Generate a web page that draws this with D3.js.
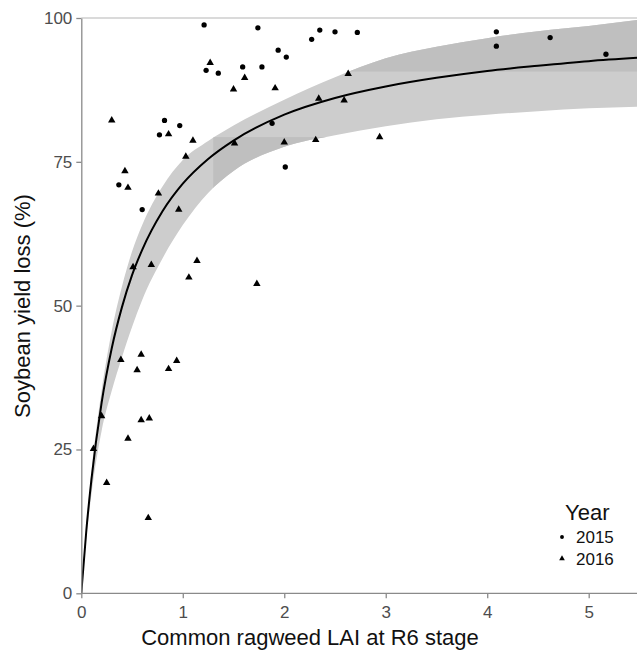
<!DOCTYPE html>
<html>
<head>
<meta charset="utf-8">
<script src="https://cdn.jsdelivr.net/npm/d3@7"></script>
<style>
  body { margin: 0; background: #fff; }
  text { font-family: "Liberation Sans", Arial, sans-serif; }
</style>
</head>
<body>
<div id="chart"></div>
<script>
"use strict";

const points2015 = [
  [1.21, 98.8], [1.74, 98.3], [1.23, 90.9], [1.35, 90.4], [1.59, 91.5],
  [1.78, 91.5], [1.94, 94.4], [2.02, 93.2], [2.27, 96.3], [2.35, 97.9],
  [2.50, 97.6], [2.72, 97.5], [4.09, 97.6], [4.09, 95.1], [4.62, 96.6],
  [5.17, 93.7], [1.88, 81.7], [2.01, 74.1], [0.82, 82.2], [0.77, 79.7],
  [0.97, 81.3], [0.37, 71.0], [0.60, 66.7]
];

const points2016 = [
  [0.30, 82.2], [0.43, 73.4], [0.46, 70.5], [0.76, 69.5], [0.96, 66.7],
  [1.03, 75.9], [1.10, 78.7], [0.86, 79.8], [0.51, 56.7], [0.69, 57.1],
  [1.06, 54.9], [1.14, 57.8], [1.27, 92.2], [1.61, 89.6], [1.50, 87.6],
  [1.73, 53.8], [1.91, 87.8], [1.51, 78.2], [2.00, 78.4], [2.31, 78.8],
  [2.34, 86.0], [2.63, 90.3], [2.59, 85.7], [2.94, 79.3], [0.39, 40.6],
  [0.59, 41.5], [0.55, 38.8], [0.94, 40.4], [0.86, 39.0], [0.20, 30.8],
  [0.59, 30.1], [0.67, 30.4], [0.46, 26.9], [0.12, 25.1], [0.25, 19.2],
  [0.66, 13.1]
];

// fitted curve and its band, read at these LAI values
const fitX      = [0, 0.05, 0.1, 0.2, 0.3, 0.4, 0.5, 0.6, 0.8, 1.0, 1.25, 1.5, 2.0, 2.5, 3.0, 3.5, 4.0, 4.5, 5.0, 5.5];
const fitY      = [0, 11.0, 19.8, 33.1, 42.6, 49.7, 55.3, 59.7, 66.4, 71.2, 75.5, 78.7, 83.2, 86.1, 88.1, 89.6, 90.8, 91.7, 92.5, 93.1];
const bandUpper = [0, 11.8, 21.2, 35.2, 45.6, 53.3, 59.4, 64.0, 70.7, 75.3, 78.6, 81.3, 85.8, 89.7, 93.0, 95.0, 96.5, 97.7, 98.6, 99.7];
const bandLower = [0, 9.6, 17.2, 28.2, 35.2, 41.0, 46.3, 51.0, 58.2, 64.0, 69.6, 73.4, 77.6, 79.6, 81.2, 82.4, 83.2, 83.8, 84.3, 84.6];

const xTicks = [0, 1, 2, 3, 4, 5];
const yTicks = [0, 25, 50, 75, 100];
const years = ["2015", "2016"];

const width = 637;
const height = 650;
const panelLeft = 81.3;
const panelTop = 18;
const panelBottom = 593.3;

const x = d3.scaleLinear().domain([0, 5]).range([panelLeft, 588.7]);
const y = d3.scaleLinear().domain([0, 100]).range([panelBottom, panelTop]);

const svg = d3.select("#chart").append("svg")
  .attr("width", width)
  .attr("height", height);

const defs = svg.append("defs");

defs.append("clipPath")
  .attr("id", "panel")
  .append("rect")
  .attr("x", panelLeft)
  .attr("y", panelTop)
  .attr("width", width - panelLeft)
  .attr("height", panelBottom - panelTop);

const band = d3.area()
  .x(function(d) { return x(d.x); })
  .y0(function(d) { return y(d.lo); })
  .y1(function(d) { return y(d.hi); })
  .curve(d3.curveMonotoneX);

const bandData = fitX.map(function(v, i) {
  return { x: v, lo: bandLower[i], hi: bandUpper[i] };
});

defs.append("clipPath")
  .attr("id", "band")
  .append("path")
  .attr("d", band(bandData));

const panel = svg.append("g").attr("clip-path", "url(#panel)");

panel.append("path")
  .attr("d", band(bandData))
  .attr("fill", "#cdcdcd");

// the darker patches of the printed band
const shade = panel.append("g").attr("clip-path", "url(#band)");
shade.append("rect")
  .attr("x", x(1.30))
  .attr("y", y(79.3))
  .attr("width", x(2.42) - x(1.30))
  .attr("height", panelBottom - y(79.3))
  .attr("fill", "#bfbfbf");
shade.append("rect")
  .attr("x", x(2.42))
  .attr("y", panelTop)
  .attr("width", width - x(2.42))
  .attr("height", y(90.7) - panelTop)
  .attr("fill", "#bfbfbf");

const line = d3.line()
  .x(function(d, i) { return x(fitX[i]); })
  .y(function(d) { return y(d); })
  .curve(d3.curveMonotoneX);

panel.append("path")
  .attr("d", line(fitY))
  .attr("fill", "none")
  .attr("stroke", "#000")
  .attr("stroke-width", 2);

const dot = d3.symbol().type(d3.symbolCircle).size(22);
const tri = d3.symbol().type(d3.symbolTriangle).size(24);

panel.selectAll(".p2015")
  .data(points2015)
  .join("path")
  .attr("class", "p2015")
  .attr("transform", function(d) { return "translate(" + x(d[0]) + "," + y(d[1]) + ")"; })
  .attr("d", dot)
  .attr("fill", "#000");

panel.selectAll(".p2016")
  .data(points2016)
  .join("path")
  .attr("class", "p2016")
  .attr("transform", function(d) { return "translate(" + x(d[0]) + "," + y(d[1]) + ")"; })
  .attr("d", tri)
  .attr("fill", "#000");

// frame
svg.append("line")
  .attr("x1", panelLeft).attr("x2", width)
  .attr("y1", panelTop).attr("y2", panelTop)
  .attr("stroke", "#b5b5b5")
  .attr("stroke-width", 1.2);

const xAxis = svg.append("g")
  .attr("transform", "translate(0," + panelBottom + ")")
  .call(d3.axisBottom(x).tickValues(xTicks).tickFormat(d3.format("d")).tickSize(5).tickSizeOuter(0));
xAxis.select(".domain").attr("d", "M" + panelLeft + ",0H" + width);

const yAxis = svg.append("g")
  .attr("transform", "translate(" + panelLeft + ",0)")
  .call(d3.axisLeft(y).tickValues(yTicks).tickSize(5).tickSizeOuter(0));

[xAxis, yAxis].forEach(function(g) {
  g.select(".domain").attr("stroke", "#8a8a8a").attr("stroke-width", 1.3);
  g.selectAll(".tick line").attr("stroke", "#8a8a8a").attr("stroke-width", 1.3);
  g.selectAll(".tick text")
    .attr("fill", "#4d4d4d")
    .style("font-size", "17px")
    .style("font-family", "'Liberation Sans', Arial, sans-serif");
});
xAxis.selectAll(".tick text").attr("dy", "1.0em");
yAxis.selectAll(".tick text").attr("x", -9);

svg.append("text")
  .attr("x", 310)
  .attr("y", 645)
  .attr("text-anchor", "middle")
  .style("font-size", "22px")
  .attr("fill", "#111")
  .text("Common ragweed LAI at R6 stage");

svg.append("text")
  .attr("transform", "translate(30,306) rotate(-90)")
  .attr("text-anchor", "middle")
  .style("font-size", "22px")
  .attr("fill", "#111")
  .text("Soybean yield loss (%)");

// legend
const legend = svg.append("g").attr("transform", "translate(562,0)");
legend.append("text")
  .attr("x", 3)
  .attr("y", 520)
  .style("font-size", "22px")
  .attr("fill", "#111")
  .text("Year");

const legendSymbols = [
  d3.symbol().type(d3.symbolCircle).size(12),
  d3.symbol().type(d3.symbolTriangle).size(14)
];

const entry = legend.selectAll(".entry")
  .data(years)
  .join("g")
  .attr("class", "entry")
  .attr("transform", function(d, i) { return "translate(0," + (537 + i * 21.5) + ")"; });

entry.append("path")
  .attr("d", function(d, i) { return legendSymbols[i](); })
  .attr("fill", "#000");

entry.append("text")
  .attr("x", 14)
  .attr("y", 6)
  .style("font-size", "17px")
  .attr("fill", "#111")
  .text(function(d) { return d; });
</script>
</body>
</html>
